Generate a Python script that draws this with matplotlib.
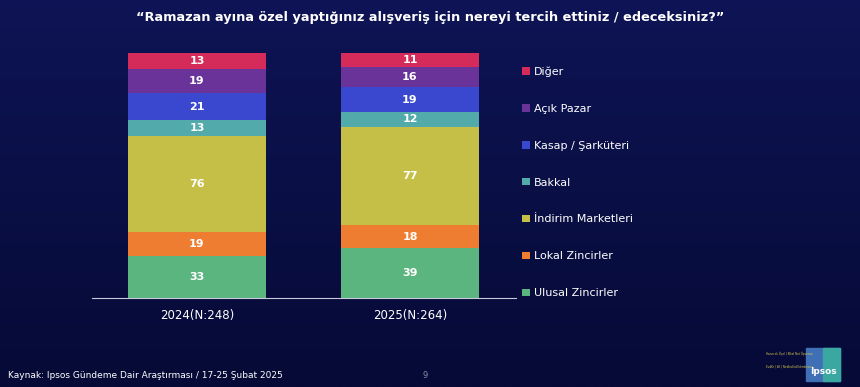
import numpy as np
import matplotlib.pyplot as plt
from matplotlib.patches import Rectangle

years = ["2024(N:248)", "2025(N:264)"]
categories = ["Ulusal Zincirler", "Lokal Zincirler", "İndirim Marketleri", "Bakkal",
              "Kasap / Şarküteri", "Açık Pazar", "Diğer"]
values_2024 = [33, 19, 76, 13, 21, 19, 13]
values_2025 = [39, 18, 77, 12, 19, 16, 11]
colors = ["#5bb57e", "#ee7d32", "#c5bf47", "#52aaaa", "#3a48d0", "#6a3399", "#d52b5a"]

fig = plt.figure(figsize=(8.6, 3.87), dpi=100)

# background gradient
bg = fig.add_axes([0, 0, 1, 1], zorder=-10)
grad = np.linspace(0, 1, 256).reshape(-1, 1)
top = np.array([0x0e, 0x14, 0x55]) / 255
bot = np.array([0x06, 0x0a, 0x36]) / 255
img = top + (bot - top) * grad[..., None]
bg.imshow(img, aspect="auto", extent=[0, 1, 0, 1])
bg.axis("off")

ax = fig.add_axes([92 / 860, 1 - 298 / 387, (516 - 92) / 860, (298 - 53) / 387])
ax.set_facecolor("none")

data = np.array([values_2024, values_2025], dtype=float)
shares = data / data.sum(axis=1, keepdims=True)
x = np.arange(len(years))
bottom = np.zeros(len(years))
handles = []
for i, cat in enumerate(categories):
    b = ax.bar(x, shares[:, i], 0.65, bottom=bottom, color=colors[i], label=cat)
    handles.append(b)
    for j in range(len(years)):
        ax.text(x[j], bottom[j] + shares[j, i] / 2, str(int(data[j, i])),
                ha="center", va="center", color="white", fontsize=8, fontweight="bold")
    bottom += shares[:, i]

ax.set_xlim(-0.493, 1.498)
ax.set_ylim(0, 1)
for s in ["top", "right", "left"]:
    ax.spines[s].set_visible(False)
ax.spines["bottom"].set_color("#c8c8d8")
ax.set_yticks([])
ax.set_xticks(x)
ax.set_xticklabels(years, color="white", fontsize=8.5)
ax.tick_params(axis="x", length=0, pad=8)

leg = fig.legend(handles[::-1], categories[::-1], loc="upper left",
                 bbox_to_anchor=(518 / 860, 1 - 62 / 387), frameon=False,
                 labelcolor="white", fontsize=8, handlelength=0.65, handleheight=0.65,
                 handletextpad=0.4, labelspacing=2.42, borderaxespad=0)

fig.text(430 / 860, 1 - 18 / 387, "“Ramazan ayına özel yaptığınız alışveriş için nereyi tercih ettiniz / edeceksiniz?”",
         ha="center", va="center", color="white", fontsize=9.3, fontweight="bold")
fig.text(8 / 860, 1 - 375 / 387, "Kaynak: Ipsos Gündeme Dair Araştırması / 17-25 Şubat 2025",
         ha="left", va="center", color="white", fontsize=6.5)
fig.text(425 / 860, 1 - 376 / 387, "9", ha="center", va="center", color="#8a8ca8", fontsize=6)

# logo
fig.patches.append(Rectangle((806 / 860, 1 - 381 / 387), 34 / 860, 33 / 387,
                             transform=fig.transFigure, color="#3f6fb5"))
fig.patches.append(Rectangle((823 / 860, 1 - 381 / 387), 17 / 860, 33 / 387,
                             transform=fig.transFigure, color="#3aa7a0"))
fig.text(823 / 860, 1 - 371 / 387, "Ipsos", ha="center", va="center", color="white",
         fontsize=6.5, fontweight="bold")
fig.text(766 / 860, 1 - 354 / 387, "Hanecek Öçel | Klkel Not Öpsenso", ha="left", va="center",
         color="#d8c84a", fontsize=2)
fig.text(766 / 860, 1 - 366 / 387, "EvdKr | kK | Nedlnd kdl kkmkrwoc", ha="left", va="center",
         color="#d8c84a", fontsize=2)

fig.savefig("out.png", dpi=100, facecolor=fig.get_facecolor())
